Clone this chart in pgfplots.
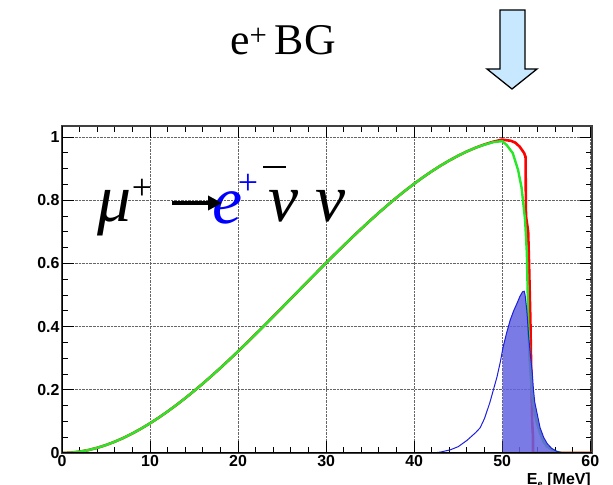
\documentclass[border=0pt]{standalone}
\usepackage{pgfplots}
\pgfplotsset{compat=1.18}
\usepackage{fontspec}
\setmainfont{Liberation Serif}
\newfontfamily\lsans{Liberation Sans}
\usetikzlibrary{arrows.meta}
\definecolor{rootred}{RGB}{255,0,0}
\definecolor{rootgreen}{RGB}{40,230,40}
\definecolor{rootblue}{RGB}{30,30,220}
\definecolor{fillblue}{RGB}{100,100,225}
\definecolor{arrowblue}{RGB}{200,232,255}

\pgfplotstableread{
E y
0 0
1 0.00106
2 0.0042
3 0.00932
4 0.01635
5 0.0252
6 0.0358
7 0.04807
8 0.0619
9 0.07726
10 0.094
11 0.11212
12 0.1315
13 0.15201
14 0.1736
15 0.19627
16 0.2198
17 0.24424
18 0.2694
19 0.29528
20 0.3217
21 0.34873
22 0.3762
23 0.40394
24 0.432
25 0.46026
26 0.4886
27 0.51704
28 0.5454
29 0.57362
30 0.6016
31 0.62936
32 0.6567
33 0.68359
34 0.7099
35 0.73567
36 0.7607
37 0.78495
38 0.8084
39 0.83078
40 0.8522
41 0.87249
42 0.8916
43 0.90944
44 0.9259
45 0.94097
46 0.9545
47 0.96646
48 0.9767
49 0.98521
50 0.9919
51 0.988
51.5 0.982
52 0.969
52.5 0.949
52.65 0.937
52.7 0.75
52.95 0.70
53.05 0.60
53.2 0.42
53.3 0.25
53.4 0.10
53.5 0.05
53.5 0
60.2 0
}\redtab

\pgfplotstableread{
E y
0 0
1 0.00106
2 0.0042
3 0.00932
4 0.01635
5 0.0252
6 0.0358
7 0.04807
8 0.0619
9 0.07726
10 0.094
11 0.11212
12 0.1315
13 0.15201
14 0.1736
15 0.19627
16 0.2198
17 0.24424
18 0.2694
19 0.29528
20 0.3217
21 0.34873
22 0.3762
23 0.40394
24 0.432
25 0.46026
26 0.4886
27 0.51704
28 0.5454
29 0.57362
30 0.6016
31 0.62936
32 0.6567
33 0.68359
34 0.7099
35 0.73567
36 0.7607
37 0.78495
38 0.8084
39 0.83078
40 0.8522
41 0.87249
42 0.8916
43 0.90944
44 0.9259
45 0.94097
46 0.9545
47 0.96646
48 0.976
49 0.984
50 0.987
50.5 0.975
51.2 0.949
51.8 0.896
52.2 0.84
52.6 0.737
52.8 0.633
52.9 0.50
52.95 0.42
53.1 0.30
53.3 0.22
53.5 0.158
53.9 0.10
54.3 0.063
54.7 0.035
55.1 0.02
55.8 0.008
56.6 0
60.2 0
}\greentab

\pgfplotstableread{
E y
0 0
42.2 0
43 0.003
44.1 0.01
45 0.02
46 0.04
47 0.065
47.5 0.08
48 0.11
48.6 0.16
49 0.2
49.4 0.24
49.8 0.29
50.1 0.335
50.5 0.38
50.9 0.42
51.3 0.45
51.7 0.475
52 0.495
52.3 0.51
52.5 0.512
52.6 0.50
52.8 0.45
53.0 0.37
53.2 0.31
53.4 0.26
53.55 0.2
53.7 0.16
54 0.12
54.3 0.08
54.7 0.05
55.1 0.03
55.6 0.015
56.2 0.005
57 0
60.2 0
}\bluetab

\pgfplotstableread{
E y
50.05 0
50.05 0.33
50.1 0.335
50.5 0.38
50.9 0.42
51.3 0.45
51.7 0.475
52 0.495
52.3 0.51
52.5 0.512
52.6 0.50
52.8 0.45
53.0 0.37
53.2 0.31
53.4 0.26
53.55 0.2
53.7 0.16
54 0.12
54.3 0.08
54.7 0.05
55.1 0.03
55.6 0.015
56.2 0.005
57 0
}\filltab

\begin{document}
\begin{tikzpicture}[x=1bp,y=1bp]
\useasboundingbox (0,0) rectangle (613,485);
% title
\node[anchor=base,font=\fontsize{44}{48}\selectfont] at (283,430) {e\textsuperscript{+}\,BG};
% big arrow
\draw[line width=1.3bp,fill=arrowblue] (500,475) -- (525,475) -- (525,416) -- (537,416) -- (512,396) -- (487,416) -- (500,416) -- cycle;
\begin{axis}[
  at={(62bp,32bp)}, anchor=south west,
  width=530bp, height=327bp, scale only axis,
  xmin=0, xmax=60.2, ymin=0, ymax=1.035,
  xtick={0,10,...,60}, ytick={0,0.2,...,1},
  minor x tick num=4, minor y tick num=3,
  major tick length=12bp, minor tick length=6bp,
  tick style={black, line width=1bp},
  grid=major,
  major grid style={densely dotted, black!60, line width=0.7bp},
  axis line style={black!75, line width=1.5bp},
  /pgf/number format/assume math mode=true,
  ticklabel style={font=\lsans\bfseries\fontsize{16}{18}\selectfont},
  yticklabel style={xshift=1bp},
  xticklabel style={yshift=1bp},
  clip=true,
  axis on top=false,
]
\addplot[rootred, line width=2.6bp] table[x=E,y=y] {\redtab};
\addplot[rootgreen, line width=2.4bp] table[x=E,y=y] {\greentab};
\addplot[draw=none, fill=fillblue, fill opacity=0.85] table[x=E,y=y] {\filltab} \closedcycle;
\addplot[rootblue, line width=1bp] table[x=E,y=y] {\bluetab};
\draw[black, line width=2.6bp] (rel axis cs:0,0) -- (rel axis cs:0,1);
\draw[black, line width=2.6bp] (rel axis cs:0,0) -- (rel axis cs:1,0);
\end{axis}
% x label
\node[anchor=north east, font=\lsans\bfseries\fontsize{16}{18}\selectfont, inner sep=0pt] at (591,12) {E$_{\mathbf{e}}$ [MeV]};
% formula
\begin{scope}[font=\itshape\fontsize{68}{74}\selectfont]
\node[anchor=base west, inner sep=0pt] at (97,263) {μ};
\node[anchor=base west, inner sep=0pt, text=blue] at (212,261) {e};
\node[anchor=base west, inner sep=0pt] at (268,263) {ν};
\node[anchor=base west, inner sep=0pt] at (315,263) {ν};
\end{scope}
\node[font=\fontsize{36}{38}\selectfont, inner sep=0pt] at (142,296) {+};
\node[font=\fontsize{36}{38}\selectfont, inner sep=0pt, text=blue] at (248,301) {+};
\draw[line width=2.2bp] (263,318) -- (286,318);
\draw[line width=3.5bp, -{Triangle[length=14bp,width=14bp]}] (172,282) -- (222,282);
\end{tikzpicture}
\end{document}
